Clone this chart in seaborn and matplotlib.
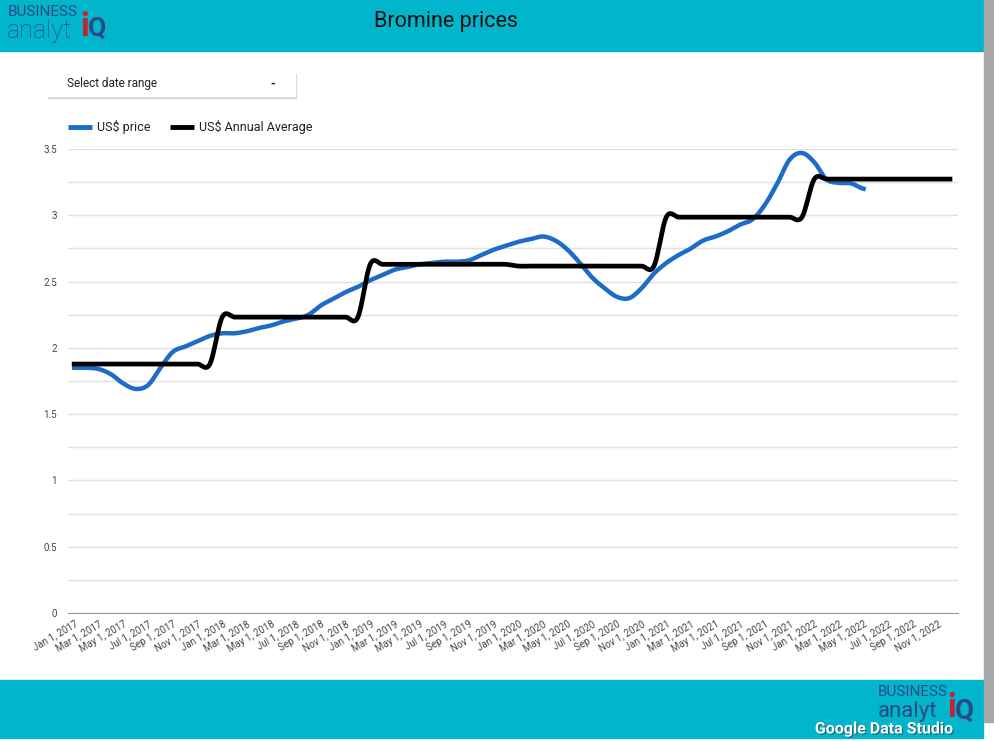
import numpy as np
import pandas as pd
import matplotlib
matplotlib.use("Agg")
import matplotlib.pyplot as plt
import matplotlib.patheffects as pe
from matplotlib.patches import Rectangle
import seaborn as sns

# monthly US$ price, Jan 2017 .. May 2022
price = [1.85, 1.85, 1.84, 1.80, 1.73, 1.69, 1.72, 1.85, 1.97, 2.01, 2.05, 2.09,
         2.11, 2.11, 2.125, 2.15, 2.17, 2.20, 2.22, 2.25, 2.32, 2.37, 2.42, 2.46,
         2.51, 2.55, 2.59, 2.61, 2.63, 2.64, 2.65, 2.65, 2.66, 2.70, 2.74, 2.77,
         2.80, 2.82, 2.84, 2.81, 2.74, 2.64, 2.53, 2.45, 2.385, 2.375, 2.45, 2.56,
         2.64, 2.70, 2.75, 2.81, 2.84, 2.88, 2.93, 2.97, 3.08, 3.24, 3.42, 3.47,
         3.40, 3.27, 3.245, 3.24, 3.20]
years = [2017, 2018, 2019, 2020, 2021, 2022]
annual_avg = [1.878, 2.232, 2.630, 2.617, 2.986, 3.273]
months = ["Jan", "Feb", "Mar", "Apr", "May", "Jun", "Jul", "Aug", "Sep", "Oct", "Nov", "Dec"]

tick_labels = [f"{m} 1, {y}" for y in years for m in months][::2]
avg_monthly = [v for v in annual_avg for _ in range(12)]

TEAL = "#00b5cc"
NAVY = "#2a4a86"
BLUE = "#1f6cc6"


def smooth(values, n=20):
    # catmull-rom smoothing, like the chart's smoothed lines
    p = np.asarray(values, dtype=float)
    pts = np.concatenate([[p[0]], p, [p[-1]]])
    xs, ys = [], []
    t = np.linspace(0, 1, n, endpoint=False)
    for i in range(len(p) - 1):
        p0, p1, p2, p3 = pts[i:i + 4]
        y = 0.5 * (2 * p1 + (p2 - p0) * t + (2 * p0 - 5 * p1 + 4 * p2 - p3) * t ** 2
                   + (-p0 + 3 * p1 - 3 * p2 + p3) * t ** 3)
        xs.extend(i + t)
        ys.extend(y)
    xs.append(len(p) - 1)
    ys.append(p[-1])
    return pd.DataFrame({"month": xs, "value": ys})


plt.rcParams["font.family"] = ["Roboto", "DejaVu Sans"]

W, H = 995, 741
fig = plt.figure(figsize=(W / 100, H / 100), dpi=100)

# page background / bands drawn in pixel coords
bg = fig.add_axes([0, 0, 1, 1], zorder=0)
bg.set_xlim(0, W)
bg.set_ylim(H, 0)
bg.axis("off")
bg.add_patch(Rectangle((0, 0), 983, 51, color=TEAL))
bg.add_patch(Rectangle((0, 680), 983, 58, color=TEAL))
bg.add_patch(Rectangle((984, 0), 11, 722, color="#a9a9a9"))

bg.text(446, 22, "Bromine prices", ha="center", va="center", fontsize=15.5, color="#111111")

# logo top-left
bg.text(8, 12, "BUSINESS", ha="left", va="center", fontsize=11, color=NAVY)
bg.text(7, 31, "analyt", ha="left", va="center", fontsize=18, color=NAVY, fontweight="light")
bg.text(80, 27, "i", ha="left", va="center", fontsize=24, color="#c8202e", fontweight="bold")
bg.text(88, 29, "Q", ha="left", va="center", fontsize=19, color=NAVY, fontweight="bold")

# logo bottom-right (the studio badge sits over it, as in the original)
bg.text(878, 692, "BUSINESS", ha="left", va="center", fontsize=11, color=NAVY)
bg.text(878, 711, "analyt", ha="left", va="center", fontsize=16, color=NAVY)
bg.text(947, 708, "i", ha="left", va="center", fontsize=24, color="#c8202e", fontweight="bold")
bg.text(955, 711, "Q", ha="left", va="center", fontsize=20, color=NAVY, fontweight="bold")
bg.text(884, 729, "Google Data Studio", ha="center", va="center", fontsize=11.5,
        color="white", fontweight="bold",
        path_effects=[pe.withSimplePatchShadow(offset=(0.8, -0.8), shadow_rgbFace="#333333", alpha=0.6)])

# date range selector
bg.add_patch(Rectangle((48, 74), 248, 24, color="#d8d8d8"))
bg.add_patch(Rectangle((47, 72), 248, 24, color="white"))
bg.text(67, 84, "Select date range", ha="left", va="center", fontsize=8.5, color="#222222")
bg.text(273, 84, "-", ha="center", va="center", fontsize=9, color="#222222", fontweight="bold")

# legend
bg.plot([68, 92], [127, 127], color=BLUE, lw=3.5, solid_capstyle="butt")
bg.text(97, 127, "US$ price", ha="left", va="center", fontsize=9, color="#222222")
bg.plot([170, 194], [127, 127], color="black", lw=3.5, solid_capstyle="butt")
bg.text(199, 127, "US$ Annual Average", ha="left", va="center", fontsize=9, color="#222222")

# chart
ax = fig.add_axes([68 / W, 1 - 613 / H, 890 / W, 464 / H], zorder=1)
ax.patch.set_alpha(0)
sns.lineplot(data=smooth(price), x="month", y="value", ax=ax, color=BLUE, lw=3.2,
             estimator=None, sort=False)
sns.lineplot(data=smooth(avg_monthly), x="month", y="value", ax=ax, color="black", lw=3.4,
             estimator=None, sort=False)

ax.set_xlim(-0.5, 71.65)
ax.set_ylim(0, 3.5)
ax.set_yticks(np.arange(0, 3.51, 0.25))
ax.set_yticklabels(["0" if v == 0 else (f"{v:g}" if (v * 2) % 1 == 0 else "")
                    for v in np.arange(0, 3.51, 0.25)])
ax.set_xticks(np.arange(0, 72, 2))
ax.set_xticklabels(tick_labels, rotation=30, ha="right", rotation_mode="anchor")
ax.tick_params(axis="both", length=0, labelsize=7, colors="#444444")
ax.tick_params(axis="y", pad=8)
ax.tick_params(axis="x", pad=4)
ax.grid(axis="y", color="#e0e0e0", lw=1)
ax.set_axisbelow(True)
for s in ["top", "right", "left"]:
    ax.spines[s].set_visible(False)
ax.spines["bottom"].set_color("#999999")
ax.set_xlabel("")
ax.set_ylabel("")

fig.savefig("out.png", dpi=100)
